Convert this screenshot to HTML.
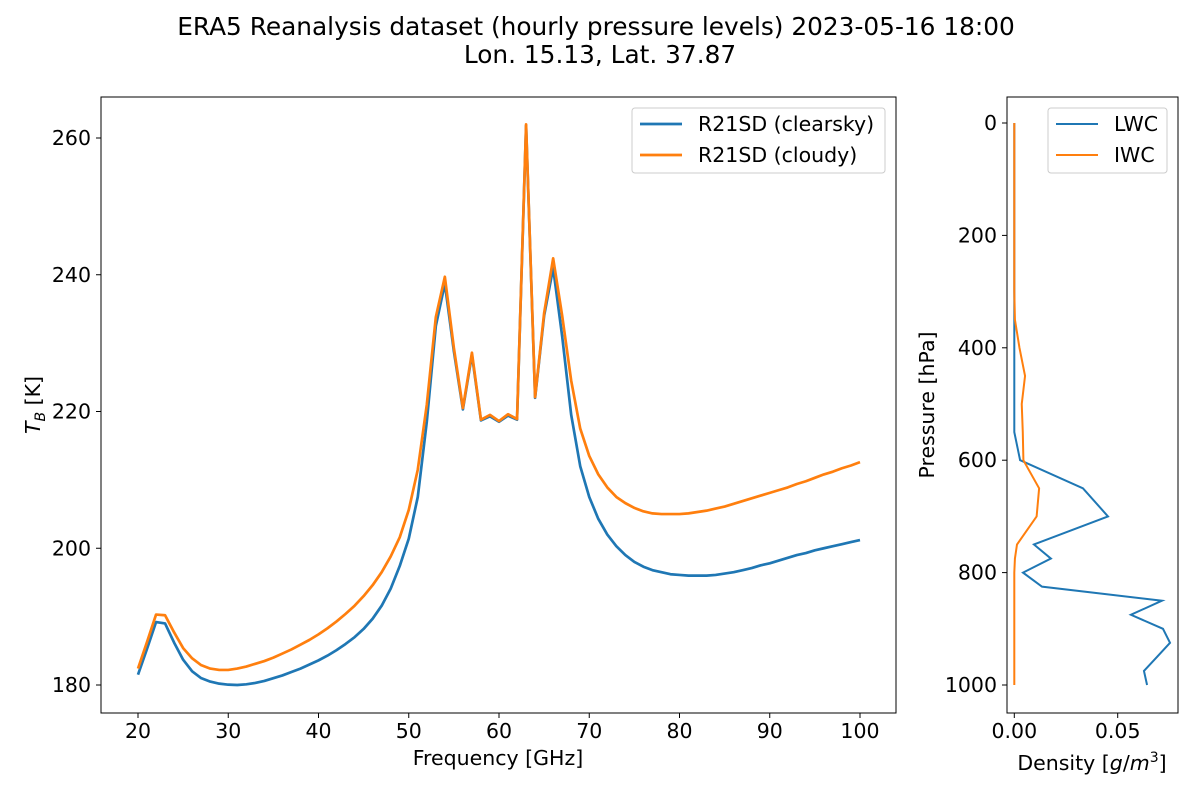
<!DOCTYPE html>
<html><head><meta charset="utf-8"><style>
body{margin:0;background:#fff;}
svg{display:block;font-family:"DejaVu Sans","Liberation Sans",sans-serif;}
</style></head><body>
<svg id="fig" width="1200" height="800" viewBox="0 0 1200 800" xmlns="http://www.w3.org/2000/svg">
<rect width="1200" height="800" fill="#fff"/>
<text x="596" y="35" font-size="24.8" text-anchor="middle">ERA5 Reanalysis dataset (hourly pressure levels) 2023-05-16 18:00</text>
<text x="600" y="63" font-size="24.8" text-anchor="middle">Lon. 15.13, Lat. 37.87</text>
<g id="left"></g>
<g id="right"></g>
</svg>
<script>
const freqs=[];for(let f=20;f<=100;f++)freqs.push(f);
const clearsky=[181.5,185.3,189.2,189.0,186.2,183.7,182.0,181.0,180.5,180.2,180.05,180.0,180.1,180.3,180.6,181.0,181.4,181.9,182.4,183.0,183.6,184.3,185.1,186.0,187.0,188.2,189.7,191.6,194.1,197.4,201.4,207.5,218.5,232.5,238.7,228.8,220.3,228.3,218.7,219.3,218.5,219.4,218.8,261.8,222.0,234.0,241.0,231.0,219.5,212.0,207.5,204.3,202.0,200.3,199.0,198.0,197.3,196.8,196.5,196.2,196.1,196.0,196.0,196.0,196.1,196.3,196.5,196.8,197.1,197.5,197.8,198.2,198.6,199.0,199.3,199.7,200.0,200.3,200.6,200.9,201.2];
const cloudy=[182.4,186.3,190.3,190.2,187.7,185.4,183.9,182.9,182.4,182.2,182.2,182.4,182.7,183.1,183.5,184.0,184.6,185.2,185.9,186.6,187.4,188.3,189.3,190.4,191.6,193.0,194.6,196.5,198.8,201.6,205.6,211.5,221.0,233.8,239.7,229.3,220.5,228.6,218.8,219.5,218.6,219.6,218.9,262.0,222.1,234.4,242.4,234.0,224.5,217.5,213.5,210.8,208.9,207.5,206.6,205.9,205.4,205.1,205.0,205.0,205.0,205.1,205.3,205.5,205.8,206.1,206.5,206.9,207.3,207.7,208.1,208.5,208.9,209.4,209.8,210.3,210.8,211.2,211.7,212.1,212.6];
const xTicks=[20,30,40,50,60,70,80,90,100];
const yTicks=[180,200,220,240,260];
const pressure=[0,100,200,300,350,400,450,500,550,600,650,700,750,775,800,825,850,875,900,925,950,975,1000];
const lwc=[0,0,0,0,0,0,0,0,0,0.0028,0.0332,0.0453,0.0095,0.0177,0.0042,0.0134,0.0714,0.0564,0.0719,0.0753,0.069,0.0627,0.0642];
const iwc=[0,0,0,0,0.0003,0.0025,0.0052,0.0036,0.0041,0.0044,0.012,0.0108,0.0013,0.0003,0,0,0,0,0,0,0,0,0];
const pTicks=[0,200,400,600,800,1000];
const dTicks=[0,0.05];
const dTickLabels=["0.00","0.05"];
const NS="http://www.w3.org/2000/svg";
const FS=20.5;
function mk(p,t,a){const e=document.createElementNS(NS,t);for(const k in a)e.setAttribute(k,a[k]);p.appendChild(e);return e;}
const L=document.getElementById('left'),R=document.getElementById('right');
const lx=f=>138+(f-20)*9.025, ly=t=>685-(t-180)*6.8375;
function path(xs,ys,fx,fy){return xs.map((v,i)=>(i?'L':'M')+fx(v).toFixed(2)+','+fy(ys[i]).toFixed(2)).join('');}
let e=mk(L,'path',{d:path(freqs,clearsky,lx,ly),fill:'none',stroke:'#1f77b4','stroke-width':2.7,'stroke-linejoin':'round'});

e=mk(L,'path',{d:path(freqs,cloudy,lx,ly),fill:'none',stroke:'#ff7f0e','stroke-width':2.7,'stroke-linejoin':'round'});

e=mk(L,'rect',{x:101,y:97,width:795,height:616,fill:'none',stroke:'#000','stroke-width':1});

xTicks.forEach(v=>{mk(L,'line',{x1:lx(v),x2:lx(v),y1:713,y2:718,stroke:'#000'});
 e=mk(L,'text',{x:lx(v),y:738,'font-size':FS,'text-anchor':'middle'});e.textContent=v;
 });
yTicks.forEach(v=>{mk(L,'line',{x1:96,x2:101,y1:ly(v),y2:ly(v),stroke:'#000'});
 e=mk(L,'text',{x:91,y:ly(v)+7,'font-size':FS,'text-anchor':'end'});e.textContent=v;
 });
e=mk(L,'text',{x:498,y:765,'font-size':FS,'text-anchor':'middle'});e.textContent='Frequency [GHz]';

e=mk(L,'text',{x:0,y:0,'font-size':FS,'text-anchor':'middle',transform:'translate(40,405) rotate(-90)'});
e.innerHTML='<tspan font-style="italic">T</tspan><tspan font-style="italic" font-size="14" dy="5">B</tspan><tspan dy="-5"> [K]</tspan>';

const lg=mk(L,'g',{});
mk(lg,'rect',{x:632,y:108,width:253,height:65,rx:3,fill:'#fff',stroke:'#ccc'});
mk(lg,'line',{x1:640,x2:682,y1:124,y2:124,stroke:'#1f77b4','stroke-width':2.7});
e=mk(lg,'text',{x:698,y:131,'font-size':FS});e.textContent='R21SD (clearsky)';

mk(lg,'line',{x1:640,x2:682,y1:155,y2:155,stroke:'#ff7f0e','stroke-width':2.7});
e=mk(lg,'text',{x:698,y:162,'font-size':FS});e.textContent='R21SD (cloudy)';

const rx=d=>1014.3+d*2068, ry=p=>123+p*0.562;
e=mk(R,'path',{d:path(lwc,pressure,rx,ry),fill:'none',stroke:'#1f77b4','stroke-width':2});

e=mk(R,'path',{d:path(iwc,pressure,rx,ry),fill:'none',stroke:'#ff7f0e','stroke-width':2});

e=mk(R,'rect',{x:1007,y:97,width:171,height:616,fill:'none',stroke:'#000'});

pTicks.forEach(v=>{mk(R,'line',{x1:1002,x2:1007,y1:ry(v),y2:ry(v),stroke:'#000'});
 e=mk(R,'text',{x:997,y:ry(v)+7,'font-size':FS,'text-anchor':'end'});e.textContent=v;
 });
dTicks.forEach((v,i)=>{mk(R,'line',{x1:rx(v),x2:rx(v),y1:713,y2:718,stroke:'#000'});
 e=mk(R,'text',{x:rx(v),y:738,'font-size':FS,'text-anchor':'middle'});e.textContent=dTickLabels[i];
 });
e=mk(R,'text',{x:1092,y:770,'font-size':FS,'text-anchor':'middle'});
e.innerHTML='Density [<tspan font-style="italic">g</tspan>/<tspan font-style="italic">m</tspan><tspan font-size="14" dy="-8">3</tspan><tspan dy="8">]</tspan>';

e=mk(R,'text',{x:0,y:0,'font-size':FS,'text-anchor':'middle',transform:'translate(934,405) rotate(-90)'});e.textContent='Pressure [hPa]';

const rg=mk(R,'g',{});
mk(rg,'rect',{x:1048,y:108,width:119,height:65,rx:3,fill:'#fff',stroke:'#ccc'});
mk(rg,'line',{x1:1056,x2:1098,y1:124,y2:124,stroke:'#1f77b4','stroke-width':2});
e=mk(rg,'text',{x:1114,y:131,'font-size':FS});e.textContent='LWC';

mk(rg,'line',{x1:1056,x2:1098,y1:155,y2:155,stroke:'#ff7f0e','stroke-width':2});
e=mk(rg,'text',{x:1114,y:162,'font-size':FS});e.textContent='IWC';

</script>
</body></html>
